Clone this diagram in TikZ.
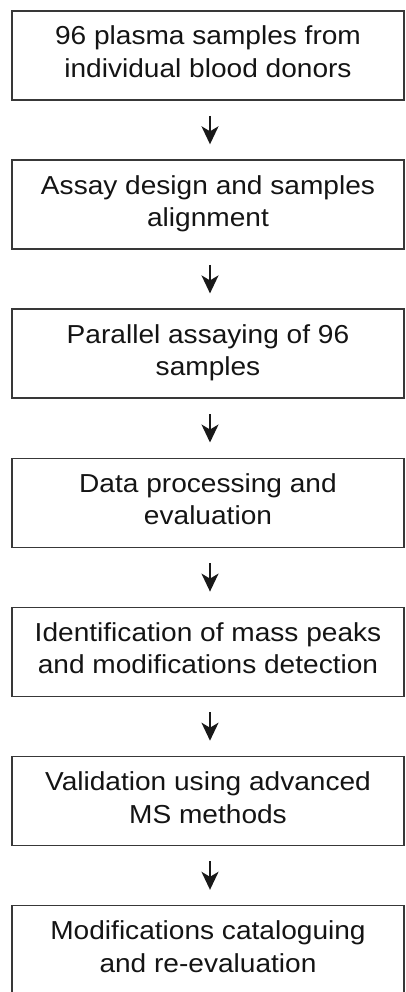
\documentclass[tikz,border=0pt]{standalone}
\usepackage{fontspec}
\setmainfont[FakeStretch=1.08]{Liberation Sans}
\usetikzlibrary{arrows.meta}
\tikzset{
  stepbox/.style={draw=black!78, line width=1.6pt, minimum width=392pt, minimum height=89pt,
    inner sep=0pt, text=black!92, text height=19pt, text depth=40pt,
    font=\fontsize{26}{32.5}\selectfont},
  flowarrow/.style={line width=1.9pt, draw=black!90, shorten <=15pt, shorten >=15pt,
    -{Stealth[length=18pt,width=17pt,inset=5pt]}}
}
\newcommand{\twolines}[2]{\begin{tabular}[t]{@{}c@{}}#1\\#2\end{tabular}}
\begin{document}
\begin{tikzpicture}[x=1pt,y=-1pt]
\useasboundingbox (0,0) rectangle (406,992);
\clip (0,0) rectangle (406,992);
\node[stepbox] (b1) at (208,55.5) {\twolines{96 plasma samples from}{individual blood donors}};
\node[stepbox] (b2) at (208,204.6) {\twolines{Assay design and samples}{alignment}};
\node[stepbox] (b3) at (208,353.7) {\twolines{Parallel assaying of 96}{samples}};
\node[stepbox] (b4) at (208,502.8) {\twolines{Data processing and}{evaluation}};
\node[stepbox] (b5) at (208,651.9) {\twolines{Identification of mass peaks}{and modifications detection}};
\node[stepbox] (b6) at (208,801.0) {\twolines{Validation using advanced}{MS methods}};
\node[stepbox] (b7) at (208,950.1) {\twolines{Modifications cataloguing}{and re-evaluation}};
\foreach \a/\b in {b1/b2,b2/b3,b3/b4,b4/b5,b5/b6,b6/b7}
  \draw[flowarrow] ([xshift=2pt]\a.south) -- ([xshift=2pt]\b.north);
\end{tikzpicture}
\end{document}
